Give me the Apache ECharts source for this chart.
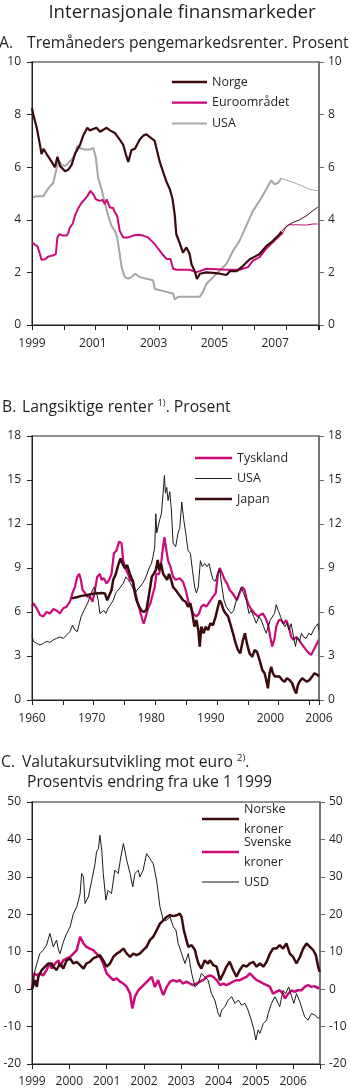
<!DOCTYPE html>
<html><head><meta charset="utf-8">
<script src="https://cdn.jsdelivr.net/npm/echarts@6.0.0/dist/echarts.min.js"></script>
<style>html,body{margin:0;padding:0;background:#fff}#c{width:350px;height:1090px}</style>
</head><body><div id="c"></div>
<script>
// ---------- Panel A: three-month money market rates (year, percent) ----------
const aYTicks = [0, 10, 2];
const norgeA = [[1999.00,8.25],[1999.04,8.0],[1999.15,7.5],[1999.25,6.85],[1999.30,6.5],[1999.36,6.7],[1999.46,6.5],[1999.62,6.2],[1999.72,6.0],[1999.80,6.4],[1999.88,6.05],[2000.04,5.85],[2000.14,5.9],[2000.25,6.1],[2000.35,6.5],[2000.51,6.85],[2000.61,7.2],[2000.74,7.5],[2000.82,7.4],[2001.03,7.5],[2001.14,7.35],[2001.35,7.5],[2001.45,7.4],[2001.61,7.3],[2001.76,7.05],[2001.87,6.85],[2001.95,6.5],[2002.03,6.2],[2002.13,6.65],[2002.24,6.7],[2002.39,7.05],[2002.50,7.2],[2002.60,7.25],[2002.76,7.1],[2002.86,7.0],[2002.94,6.6],[2003.02,6.2],[2003.13,5.8],[2003.23,5.45],[2003.34,5.15],[2003.42,4.8],[2003.49,4.2],[2003.54,3.45],[2003.65,3.1],[2003.75,2.75],[2003.86,2.95],[2003.96,2.7],[2004.02,2.3],[2004.12,2.05],[2004.19,1.75],[2004.28,1.95],[2004.49,2.0],[2004.70,1.98],[2004.91,1.95],[2005.12,1.9],[2005.23,2.05],[2005.44,2.05],[2005.64,2.25],[2005.85,2.5],[2006.01,2.6],[2006.16,2.7],[2006.37,3.0],[2006.58,3.2],[2006.79,3.45],[2006.84,3.55]];
const norgeFwdA = [[2006.84,3.55],[2007.00,3.75],[2007.21,3.9],[2007.42,4.0],[2007.63,4.15],[2007.84,4.35],[2007.99,4.48]];
const euroA = [[1999.00,3.15],[1999.09,3.05],[1999.17,3.0],[1999.25,2.7],[1999.30,2.48],[1999.41,2.5],[1999.51,2.6],[1999.67,2.65],[1999.75,2.7],[1999.80,3.33],[1999.86,3.45],[1999.98,3.4],[2000.09,3.4],[2000.14,3.5],[2000.19,3.7],[2000.28,3.85],[2000.35,4.15],[2000.46,4.45],[2000.56,4.65],[2000.66,4.78],[2000.74,4.9],[2000.84,5.1],[2000.93,4.97],[2001.01,4.78],[2001.12,4.72],[2001.22,4.75],[2001.29,4.6],[2001.35,4.78],[2001.45,4.47],[2001.55,4.45],[2001.61,4.28],[2001.68,4.15],[2001.76,3.58],[2001.87,3.33],[2002.03,3.33],[2002.18,3.4],[2002.34,3.43],[2002.50,3.4],[2002.65,3.33],[2002.76,3.2],[2002.86,3.08],[2002.97,2.9],[2003.13,2.65],[2003.23,2.52],[2003.36,2.5],[2003.44,2.14],[2003.54,2.1],[2003.75,2.1],[2003.96,2.1],[2004.17,2.01],[2004.28,2.05],[2004.49,2.14],[2004.80,2.12],[2005.12,2.1],[2005.33,2.1],[2005.53,2.1],[2005.80,2.2],[2005.95,2.45],[2006.16,2.58],[2006.37,2.9],[2006.58,3.15],[2006.79,3.4],[2006.90,3.52]];
const euroFwdA = [[2006.90,3.52],[2007.00,3.74],[2007.10,3.81],[2007.31,3.81],[2007.63,3.8],[2007.84,3.84],[2007.99,3.84]];
const usaA = [[1999.00,4.85],[1999.15,4.9],[1999.36,4.9],[1999.46,5.1],[1999.57,5.28],[1999.67,5.4],[1999.72,5.66],[1999.80,6.1],[1999.86,6.23],[1999.93,6.1],[2000.04,6.04],[2000.14,6.16],[2000.25,6.29],[2000.35,6.48],[2000.42,6.8],[2000.51,6.73],[2000.66,6.67],[2000.82,6.67],[2000.93,6.73],[2001.01,6.35],[2001.08,5.6],[2001.19,5.16],[2001.29,4.65],[2001.40,4.15],[2001.50,3.77],[2001.61,3.58],[2001.68,3.33],[2001.76,2.7],[2001.82,2.2],[2001.92,1.82],[2002.03,1.76],[2002.13,1.82],[2002.24,1.95],[2002.39,1.82],[2002.60,1.76],[2002.81,1.7],[2002.86,1.38],[2003.02,1.32],[2003.23,1.26],[2003.44,1.2],[2003.49,0.97],[2003.60,1.07],[2003.81,1.07],[2004.07,1.07],[2004.28,1.07],[2004.38,1.26],[2004.49,1.57],[2004.70,1.82],[2004.91,2.08],[2005.12,2.33],[2005.33,2.83],[2005.53,3.2],[2005.74,3.77],[2005.95,4.34],[2006.16,4.72],[2006.37,5.16],[2006.53,5.5],[2006.63,5.35],[2006.74,5.4],[2006.84,5.58]];
const usaFwdA = [[2006.84,5.58],[2006.90,5.58],[2007.10,5.47],[2007.31,5.38],[2007.52,5.28],[2007.73,5.16],[2007.99,5.1]];

// ---------- Panel B: long-term rates (year, percent) ----------
const bYTicks = [0, 18, 3];
const tysklandB = [[1960.00,6.36],[1960.22,6.6],[1960.49,6.7],[1960.76,6.25],[1961.30,5.8],[1961.83,5.7],[1962.37,6.0],[1962.91,5.9],[1963.45,6.2],[1963.99,6.1],[1964.53,5.9],[1965.07,6.25],[1965.61,6.36],[1966.15,6.7],[1966.58,7.3],[1966.96,7.7],[1967.34,8.4],[1967.66,8.6],[1967.93,8.2],[1968.20,7.5],[1968.58,7.3],[1968.96,7.05],[1969.39,7.05],[1969.82,6.7],[1970.20,7.5],[1970.58,8.4],[1971.01,8.6],[1971.28,8.2],[1971.66,8.3],[1972.09,7.95],[1972.52,8.2],[1972.90,8.6],[1973.28,10.0],[1973.71,10.2],[1974.14,10.8],[1974.52,10.7],[1974.79,9.5],[1975.22,8.9],[1975.60,8.6],[1975.87,8.2],[1976.30,8.1],[1976.68,7.5],[1977.05,6.8],[1977.49,6.1],[1977.92,5.45],[1978.13,5.2],[1978.46,5.7],[1978.83,6.25],[1979.21,6.6],[1979.64,7.3],[1979.91,7.7],[1980.18,8.6],[1980.62,8.6],[1980.99,9.5],[1981.26,10.45],[1981.48,11.1],[1981.70,10.45],[1982.07,9.5],[1982.45,9.1],[1982.88,8.4],[1983.31,8.2],[1983.96,8.3],[1984.50,8.05],[1984.93,7.5],[1985.31,6.8],[1985.69,6.36],[1986.12,5.9],[1986.66,5.7],[1987.09,5.9],[1987.47,6.36],[1987.85,6.5],[1988.28,6.36],[1988.82,6.7],[1989.36,7.05],[1989.79,7.27],[1990.17,8.6],[1990.44,9.0],[1990.87,8.6],[1991.25,8.2],[1991.63,7.95],[1992.06,7.5],[1992.49,7.3],[1992.87,7.05],[1993.24,6.8],[1993.68,7.3],[1994.11,7.7],[1994.49,7.5],[1994.86,6.8],[1995.29,6.36],[1995.73,6.1],[1996.10,5.9],[1996.64,5.7],[1997.02,5.8],[1997.45,5.9],[1997.89,5.57],[1998.26,5.2],[1998.64,4.3],[1998.96,3.65],[1999.34,4.2],[1999.61,5.0],[2000.04,5.45],[2000.42,5.45],[2000.80,5.2],[2001.23,5.45],[2001.66,5.0],[2002.04,4.3],[2002.42,4.1],[2002.85,4.3],[2003.28,4.1],[2003.66,3.86],[2004.04,3.65],[2004.47,3.4],[2004.90,3.2],[2005.28,3.07],[2005.66,3.4],[2006.09,3.75],[2006.52,4.1]];
const usaB = [[1960.00,4.43],[1960.22,4.0],[1960.76,3.86],[1961.30,3.75],[1961.83,3.86],[1962.37,4.0],[1962.91,3.93],[1963.45,4.1],[1963.99,4.2],[1964.53,4.3],[1965.07,4.2],[1965.61,4.43],[1966.15,4.66],[1966.58,5.1],[1966.96,4.77],[1967.34,4.66],[1967.66,5.2],[1967.99,5.7],[1968.42,6.1],[1968.74,6.2],[1969.12,6.7],[1969.39,7.05],[1969.82,7.5],[1970.09,7.7],[1970.47,7.27],[1970.74,6.8],[1971.01,5.9],[1971.28,5.8],[1971.66,6.1],[1971.98,5.9],[1972.36,6.25],[1972.74,6.5],[1973.17,6.8],[1973.60,7.3],[1973.98,7.5],[1974.36,7.7],[1974.79,7.95],[1975.22,8.4],[1975.60,8.2],[1975.97,7.95],[1976.30,7.7],[1976.68,7.3],[1977.05,7.5],[1977.49,7.7],[1977.92,7.95],[1978.29,8.2],[1978.67,8.6],[1979.00,9.0],[1979.37,9.3],[1979.64,9.8],[1979.91,10.45],[1980.08,12.7],[1980.24,11.4],[1980.45,11.8],[1980.72,12.3],[1980.99,12.7],[1981.26,14.1],[1981.48,15.3],[1981.64,14.1],[1981.86,14.5],[1982.07,13.6],[1982.34,14.2],[1982.61,12.95],[1982.88,10.7],[1983.31,10.45],[1983.69,11.4],[1983.96,11.7],[1984.29,13.5],[1984.61,12.3],[1984.93,11.4],[1985.31,10.2],[1985.69,10.0],[1986.01,8.9],[1986.39,7.7],[1986.66,7.3],[1986.98,7.7],[1987.31,9.5],[1987.63,9.1],[1988.01,9.3],[1988.39,9.1],[1988.71,9.3],[1989.09,8.6],[1989.36,8.2],[1989.74,8.1],[1990.06,8.6],[1990.44,8.9],[1990.81,7.7],[1991.14,6.8],[1991.52,6.36],[1991.95,6.1],[1992.33,5.9],[1992.70,6.1],[1993.14,6.8],[1993.57,7.27],[1993.95,7.7],[1994.32,7.27],[1994.76,6.8],[1995.19,5.9],[1995.56,6.1],[1995.94,5.7],[1996.37,5.23],[1996.81,5.7],[1997.18,5.45],[1997.56,5.0],[1997.99,4.55],[1998.32,5.0],[1998.64,5.45],[1998.96,5.45],[1999.34,5.9],[1999.61,6.5],[1999.94,6.1],[2000.31,5.7],[2000.69,5.23],[2001.01,5.0],[2001.34,5.23],[2001.66,4.77],[2002.04,5.2],[2002.42,4.3],[2002.74,3.65],[2003.01,4.3],[2003.39,4.0],[2003.71,4.55],[2004.04,4.3],[2004.47,4.2],[2004.90,4.55],[2005.28,4.43],[2005.66,4.77],[2005.98,5.0],[2006.36,5.2],[2006.52,4.77]];
const japanB = [[1966.42,6.93],[1967.23,7.0],[1967.99,7.1],[1968.85,7.15],[1969.66,7.23],[1970.47,7.27],[1971.28,7.3],[1971.82,7.27],[1972.20,6.8],[1972.52,6.8],[1972.90,7.5],[1973.17,8.2],[1973.60,8.6],[1973.98,9.2],[1974.36,9.66],[1974.68,9.3],[1975.06,8.98],[1975.43,9.2],[1975.87,8.6],[1976.14,8.6],[1976.41,8.05],[1976.68,7.3],[1976.95,6.8],[1977.38,6.36],[1977.76,6.1],[1978.13,6.0],[1978.57,6.15],[1978.83,6.8],[1979.10,7.5],[1979.43,8.4],[1979.75,8.6],[1980.08,8.86],[1980.40,9.55],[1980.62,8.86],[1980.94,9.3],[1981.26,8.6],[1981.59,8.4],[1981.91,8.2],[1982.23,8.6],[1982.56,8.2],[1982.88,7.7],[1983.31,7.5],[1983.69,7.27],[1984.07,7.05],[1984.50,6.8],[1984.93,6.7],[1985.31,6.36],[1985.69,6.6],[1986.01,5.9],[1986.34,5.0],[1986.66,5.45],[1986.98,4.77],[1987.20,3.64],[1987.47,5.0],[1987.85,4.55],[1988.17,5.0],[1988.55,4.77],[1988.93,5.23],[1989.36,5.1],[1989.79,5.7],[1990.17,6.36],[1990.44,6.8],[1990.71,6.6],[1991.09,6.1],[1991.41,5.9],[1991.79,5.7],[1992.16,5.2],[1992.60,4.55],[1993.03,3.86],[1993.41,3.4],[1993.78,3.18],[1994.22,4.1],[1994.54,4.55],[1994.86,3.86],[1995.29,3.18],[1995.73,2.95],[1996.10,3.4],[1996.48,3.3],[1996.91,2.73],[1997.35,2.05],[1997.72,1.82],[1997.99,1.36],[1998.26,0.8],[1998.53,1.82],[1998.80,2.27],[1999.07,1.82],[1999.40,1.6],[1999.72,1.7],[2000.15,1.6],[2000.58,1.36],[2000.96,1.25],[2001.34,1.48],[2001.77,1.36],[2002.20,1.14],[2002.58,0.68],[2002.85,0.45],[2003.12,1.0],[2003.39,1.25],[2003.82,1.48],[2004.20,1.36],[2004.58,1.25],[2005.01,1.36],[2005.44,1.6],[2005.82,1.82],[2006.09,1.93],[2006.36,1.7],[2006.52,1.6]];

// ---------- Panel C: exchange rates vs euro, % change from week 1 1999 ----------
const cYTicks = [-20, 50, 10];
const norskeC = [[1999.00,0],[1999.04,1.1],[1999.08,2.4],[1999.13,0.6],[1999.17,3.3],[1999.26,5.1],[1999.35,6.0],[1999.44,6.85],[1999.53,6.85],[1999.57,6.0],[1999.66,5.1],[1999.75,6.85],[1999.84,5.5],[1999.93,7.7],[2000.02,8.2],[2000.11,6.85],[2000.20,7.3],[2000.29,6.4],[2000.38,5.5],[2000.46,6.85],[2000.55,7.3],[2000.64,8.2],[2000.73,8.6],[2000.82,9.1],[2000.91,7.7],[2001.00,6.0],[2001.09,6.85],[2001.18,8.6],[2001.27,9.5],[2001.36,10.0],[2001.45,10.85],[2001.54,9.5],[2001.63,8.6],[2001.71,9.5],[2001.80,9.1],[2001.89,9.5],[2001.98,10.4],[2002.07,11.3],[2002.16,13.1],[2002.25,14.0],[2002.34,15.7],[2002.43,17.5],[2002.52,18.4],[2002.61,19.3],[2002.70,19.75],[2002.79,19.5],[2002.88,19.75],[2002.96,20.2],[2003.01,19.3],[2003.07,15.7],[2003.14,13.1],[2003.19,11.3],[2003.28,11.75],[2003.37,10.4],[2003.41,8.6],[2003.46,6.85],[2003.54,5.5],[2003.63,7.7],[2003.72,6.85],[2003.77,7.7],[2003.86,6.4],[2003.95,6.0],[2004.04,2.4],[2004.13,4.2],[2004.21,6.0],[2004.30,7.3],[2004.39,5.1],[2004.48,3.3],[2004.57,5.1],[2004.66,6.4],[2004.75,6.0],[2004.84,6.85],[2004.93,7.3],[2005.02,6.0],[2005.11,6.85],[2005.20,6.0],[2005.29,7.3],[2005.38,9.5],[2005.46,10.85],[2005.55,10.85],[2005.64,11.75],[2005.73,10.85],[2005.82,12.2],[2005.91,9.5],[2006.00,8.6],[2006.09,6.85],[2006.18,8.6],[2006.27,10.85],[2006.36,12.2],[2006.45,11.3],[2006.54,10.4],[2006.61,9.1],[2006.67,6.0],[2006.71,4.6]];
const svenskeC = [[1999.00,0],[1999.05,4.2],[1999.13,3.7],[1999.21,4.2],[1999.30,3.7],[1999.39,5.1],[1999.48,6.85],[1999.53,5.5],[1999.62,6.85],[1999.71,7.7],[1999.75,6.0],[1999.84,7.7],[1999.93,8.2],[2000.02,8.6],[2000.11,9.5],[2000.20,10.4],[2000.29,14.0],[2000.33,14.4],[2000.38,12.2],[2000.46,11.3],[2000.55,10.85],[2000.64,10.4],[2000.73,9.5],[2000.82,8.6],[2000.91,6.85],[2001.00,4.2],[2001.09,3.3],[2001.18,2.4],[2001.27,2.85],[2001.36,2.0],[2001.45,1.5],[2001.54,0.6],[2001.63,-1.2],[2001.69,-5.2],[2001.76,-2.0],[2001.85,-0.3],[2001.94,0.6],[2002.03,1.5],[2002.12,2.4],[2002.21,3.3],[2002.29,0.6],[2002.38,2.4],[2002.47,-0.3],[2002.52,-1.6],[2002.61,0.6],[2002.70,2.0],[2002.79,2.4],[2002.88,2.0],[2002.96,2.4],[2003.05,1.5],[2003.14,2.0],[2003.23,1.5],[2003.32,1.1],[2003.41,1.5],[2003.50,2.0],[2003.59,2.4],[2003.68,3.3],[2003.77,3.7],[2003.86,3.3],[2003.95,2.4],[2004.04,1.1],[2004.13,1.5],[2004.21,1.1],[2004.30,1.5],[2004.39,2.0],[2004.48,2.4],[2004.57,2.4],[2004.66,2.85],[2004.75,3.3],[2004.84,4.2],[2004.93,3.3],[2005.02,2.4],[2005.11,2.0],[2005.20,1.5],[2005.29,1.1],[2005.38,0.6],[2005.46,-1.2],[2005.55,-0.7],[2005.64,-0.3],[2005.73,-1.2],[2005.78,-2.5],[2005.87,-1.2],[2005.96,-0.3],[2006.04,-0.7],[2006.13,-0.3],[2006.22,-0.3],[2006.31,0.6],[2006.40,1.1],[2006.49,0.6],[2006.58,0.8],[2006.67,0.2],[2006.71,0.6]];
const usdC = [[1999.00,0],[1999.04,2.4],[1999.08,5.1],[1999.13,6.85],[1999.21,9.5],[1999.30,10.4],[1999.39,11.75],[1999.48,14.9],[1999.53,15.3],[1999.57,11.3],[1999.66,13.1],[1999.71,10.4],[1999.75,9.5],[1999.84,12.6],[1999.93,14.9],[2000.02,16.6],[2000.11,20.2],[2000.20,22.0],[2000.29,25.5],[2000.33,30.9],[2000.38,30.0],[2000.42,22.9],[2000.51,24.6],[2000.60,29.0],[2000.69,33.5],[2000.73,36.7],[2000.78,37.5],[2000.82,41.1],[2000.87,37.1],[2000.91,30.9],[2000.98,23.8],[2001.04,26.4],[2001.13,25.5],[2001.22,31.8],[2001.31,30.9],[2001.38,35.3],[2001.45,38.9],[2001.49,37.1],[2001.54,34.4],[2001.63,30.9],[2001.70,27.3],[2001.76,30.9],[2001.85,31.8],[2001.89,30.0],[2001.98,31.8],[2002.07,36.2],[2002.16,34.9],[2002.25,33.5],[2002.34,29.1],[2002.43,22.0],[2002.52,18.4],[2002.61,18.4],[2002.70,19.3],[2002.79,16.6],[2002.86,15.7],[2002.92,12.2],[2003.01,9.5],[2003.10,6.85],[2003.19,9.5],[2003.28,4.2],[2003.37,0.6],[2003.46,1.5],[2003.54,4.2],[2003.63,3.3],[2003.72,2.4],[2003.81,-1.2],[2003.90,-2.9],[2003.99,-6.5],[2004.04,-7.4],[2004.08,-5.6],[2004.17,-4.7],[2004.26,-2.9],[2004.35,-2.0],[2004.44,-3.8],[2004.53,-2.9],[2004.62,-4.3],[2004.71,-3.8],[2004.79,-5.6],[2004.88,-8.3],[2004.95,-10.9],[2005.00,-13.6],[2005.06,-10.9],[2005.11,-11.8],[2005.20,-9.2],[2005.29,-8.3],[2005.33,-6.5],[2005.42,-3.8],[2005.51,-2.0],[2005.60,-3.8],[2005.64,-4.7],[2005.73,-0.3],[2005.80,-1.2],[2005.88,0.6],[2005.96,-2.0],[2006.02,-3.8],[2006.09,-1.2],[2006.18,-3.4],[2006.22,-4.7],[2006.31,-7.4],[2006.40,-8.3],[2006.49,-6.5],[2006.58,-6.9],[2006.67,-7.8],[2006.71,-7.4]];

// ---------- Styling ----------
const F = "'Open Sans', sans-serif";
const TXT = '#231f20';
const DARK = '#231f20';
const GRAY_AX = '#6d6d6d';
const MAROON = '#3a0a0d';
const MAGENTA = '#cc0a7a';
const LGRAY = '#a6a6a6';
const BLACK = '#1a1a1a';
const TICK_FS = 12;
const TITLE_FS = 15.7;

function leftY(gi, t) {
  return { type: 'value', gridIndex: gi, position: 'left', min: t[0], max: t[1], interval: t[2], z: 3,
    axisLine: { show: true, onZero: false, lineStyle: { color: DARK, width: 1 } },
    axisTick: { show: true, length: 5, lineStyle: { color: DARK, width: 1 } },
    axisLabel: { margin: 11, color: TXT, fontSize: TICK_FS, fontFamily: F },
    splitLine: { show: false } };
}
function rightY(gi, t) {
  return { type: 'value', gridIndex: gi, position: 'right', min: t[0], max: t[1], interval: t[2], z: 3,
    axisLine: { show: true, onZero: false, lineStyle: { color: GRAY_AX, width: 1.5 } },
    axisTick: { show: true, length: 5, lineStyle: { color: GRAY_AX, width: 1 } },
    axisLabel: { margin: 9, color: TXT, fontSize: TICK_FS, fontFamily: F },
    splitLine: { show: false } };
}
function mainX(gi, min, max, interval, labelFmt, margin) {
  return { type: 'value', gridIndex: gi, position: 'bottom', min, max, interval, z: 3,
    axisLine: { show: true, onZero: false, lineStyle: { color: DARK, width: 1 } },
    axisTick: { show: true, length: 5, lineStyle: { color: DARK, width: 1 } },
    axisLabel: labelFmt ? { show: true, margin, color: TXT, fontSize: TICK_FS, fontFamily: F, formatter: labelFmt } : { show: false },
    splitLine: { show: false } };
}
function labelX(gi, min, max, interval, labelFmt, margin) {
  return { type: 'value', gridIndex: gi, position: 'bottom', min, max, interval, z: 3,
    axisLine: { show: false, onZero: false }, axisTick: { show: false },
    axisLabel: { show: true, margin, color: TXT, fontSize: TICK_FS, fontFamily: F, formatter: labelFmt },
    splitLine: { show: false } };
}
function line(name, data, xi, yi, color, width, z) {
  return { type: 'line', name, data, xAxisIndex: xi, yAxisIndex: yi, symbol: 'none', showSymbol: false, z: z || 2,
    lineStyle: { color, width }, itemStyle: { color }, emphasis: { disabled: true }, silent: true };
}
// legend icon: a plain bar of the given thickness (aspect kept, so width 35 -> thickness t)
function barIcon(w, t) { return 'path://M0,0H' + w + 'V' + t + 'H0Z'; }
const legendText = { color: TXT, fontSize: 12.5, fontFamily: F, lineHeight: 16 };

const option = {
  animation: false,
  backgroundColor: '#ffffff',
  textStyle: { fontFamily: F },
  grid: [
    { left: 32, width: 287, top: 62, height: 263, show: true, borderColor: GRAY_AX, borderWidth: 1.5, backgroundColor: 'transparent', outerBoundsMode: 'none', containLabel: false },
    { left: 32, width: 287, top: 436, height: 264, show: true, borderColor: GRAY_AX, borderWidth: 1.5, backgroundColor: 'transparent', outerBoundsMode: 'none', containLabel: false },
    { left: 32, width: 288, top: 802, height: 262, show: true, borderColor: GRAY_AX, borderWidth: 1.5, backgroundColor: 'transparent', outerBoundsMode: 'none', containLabel: false }
  ],
  xAxis: [
    mainX(0, 1999, 2008.03, 1, null),
    labelX(0, 1999.05, 2008.49, 2, v => { const r = Math.round(v); return (Math.abs(v - r) < 0.1 && r % 2 === 1) ? String(r) : ''; }, 13),
    mainX(1, 1960, 2006.55, 5, null),
    labelX(1, 1960.25, 2008.4, 10, v => { if (v > 2007) return '2006'; const r = Math.round(v); return (Math.abs(v - r) < 0.5 && r % 10 === 0) ? String(r) : ''; }, 13),
    mainX(2, 1999, 2006.72, 1, v => Number.isInteger(v) ? String(v) : '', 12)
  ],
  yAxis: [
    leftY(0, aYTicks), rightY(0, aYTicks),
    leftY(1, bYTicks), rightY(1, bYTicks),
    leftY(2, cYTicks), rightY(2, cYTicks)
  ],
  legend: [
    { data: [{ name: 'Norge', icon: barIcon(35, 2.4) }, { name: 'Euroområdet', icon: barIcon(35, 2.2) }, { name: 'USA', icon: barIcon(35, 2) }],
      orient: 'vertical', left: 172, top: 74, padding: 0, itemGap: 4.7, symbolKeepAspect: true,
      itemWidth: 35, itemHeight: 14, selectedMode: false, textStyle: legendText },
    { data: [{ name: 'Tyskland', icon: barIcon(37, 2.4) }, { name: 'USA ', icon: barIcon(37, 1.2) }, { name: 'Japan', icon: barIcon(37, 2.6) }],
      orient: 'vertical', left: 195, top: 450, padding: 0, itemGap: 4.5, symbolKeepAspect: true,
      itemWidth: 37, itemHeight: 14, selectedMode: false, textStyle: legendText },
    { data: [{ name: 'Norske kroner', icon: barIcon(37, 2.6) }], left: 202, top: 789, padding: 0, itemWidth: 37, itemHeight: 14, selectedMode: false, symbolKeepAspect: true,
      formatter: () => 'Norske\nkroner', textStyle: Object.assign({}, legendText, { lineHeight: 20, padding: [20, 0, 0, 0] }) },
    { data: [{ name: 'Svenske kroner', icon: barIcon(37, 2.6) }], left: 202, top: 822, padding: 0, itemWidth: 37, itemHeight: 14, selectedMode: false, symbolKeepAspect: true,
      formatter: () => 'Svenske\nkroner', textStyle: Object.assign({}, legendText, { lineHeight: 20, padding: [20, 0, 0, 0] }) },
    { data: [{ name: 'USD', icon: barIcon(37, 1.2) }], left: 202, top: 872, padding: 0, itemWidth: 37, itemHeight: 14, selectedMode: false, symbolKeepAspect: true,
      textStyle: Object.assign({}, legendText, { lineHeight: 20 }) }
  ],
  series: [
    line('USA', usaA, 0, 0, LGRAY, 2, 2),
    line('Euroområdet', euroA, 0, 0, MAGENTA, 2, 3),
    line('Norge', norgeA, 0, 0, MAROON, 2.2, 4),
    line('USA', usaFwdA, 0, 0, LGRAY, 1, 2),
    line('Euroområdet', euroFwdA, 0, 0, MAGENTA, 1, 3),
    line('Norge', norgeFwdA, 0, 0, MAROON, 1, 4),

    line('Tyskland', tysklandB, 2, 2, MAGENTA, 2.2, 2),
    line('Japan', japanB, 2, 2, MAROON, 2.5, 3),
    line('USA ', usaB, 2, 2, BLACK, 1, 4),

    line('Svenske kroner', svenskeC, 4, 4, MAGENTA, 2.5, 2),
    line('Norske kroner', norskeC, 4, 4, MAROON, 2.5, 3),
    line('USD', usdC, 4, 4, BLACK, 1, 4)
  ],
  graphic: [
    { type: 'text', x: 182, y: 13, silent: true, style: { text: 'Internasjonale finansmarkeder', fill: TXT, font: "18.6px 'Open Sans', sans-serif", align: 'center', verticalAlign: 'middle' } },
    { type: 'text', x: -1, y: 44, silent: true, style: { text: 'A.', fill: TXT, font: TITLE_FS + "px 'Open Sans', sans-serif", align: 'left', verticalAlign: 'middle' } },
    { type: 'text', x: 27, y: 44, silent: true, style: { text: 'Tremåneders pengemarkedsrenter. Prosent', fill: TXT, font: TITLE_FS + "px 'Open Sans', sans-serif", align: 'left', verticalAlign: 'middle' } },
    { type: 'text', x: 2, y: 408, silent: true, style: { text: 'B.', fill: TXT, font: TITLE_FS + "px 'Open Sans', sans-serif", align: 'left', verticalAlign: 'middle' } },
    { type: 'text', x: 22, y: 408, silent: true, style: { text: '{n|Langsiktige renter }{s|1)}{n|. Prosent}', align: 'left', verticalAlign: 'middle',
        rich: { n: { fill: TXT, fontSize: TITLE_FS, fontFamily: F, lineHeight: 20 }, s: { fill: TXT, fontSize: 9.5, fontFamily: F, lineHeight: 12, verticalAlign: 'top' } } } },
    { type: 'text', x: 1, y: 763, silent: true, style: { text: 'C.', fill: TXT, font: TITLE_FS + "px 'Open Sans', sans-serif", align: 'left', verticalAlign: 'middle' } },
    { type: 'text', x: 22, y: 763, silent: true, style: { text: '{n|Valutakursutvikling mot euro }{s|2)}{n|.}', align: 'left', verticalAlign: 'middle',
        rich: { n: { fill: TXT, fontSize: TITLE_FS, fontFamily: F, lineHeight: 20 }, s: { fill: TXT, fontSize: 9.5, fontFamily: F, lineHeight: 12, verticalAlign: 'top' } } } },
    { type: 'text', x: 27, y: 783, silent: true, style: { text: 'Prosentvis endring fra uke 1 1999', fill: TXT, font: TITLE_FS + "px 'Open Sans', sans-serif", align: 'left', verticalAlign: 'middle' } }
  ]
};
const chart = echarts.init(document.getElementById('c'), null, { renderer: 'canvas' });
chart.setOption(option);
</script>
</body></html>
